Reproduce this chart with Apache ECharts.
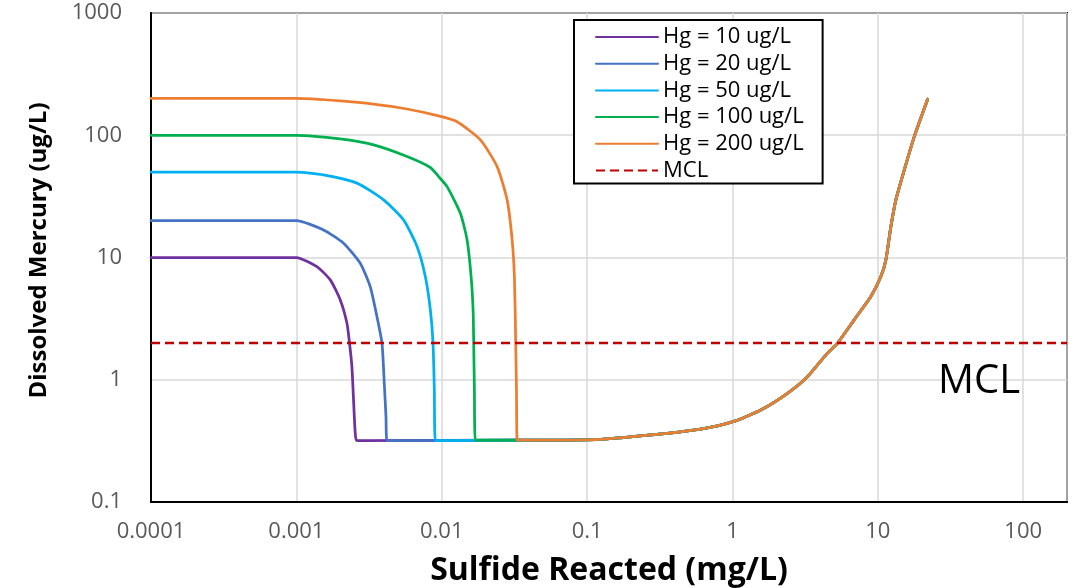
<!DOCTYPE html>
<html>
<head>
<meta charset="utf-8">
<script src="https://cdn.jsdelivr.net/npm/echarts@6/dist/echarts.min.js"></script>
<style>
html,body{margin:0;padding:0;background:#fff;}
#chart{width:1081px;height:588px;}
</style>
</head>
<body>
<div id="chart"></div>
<script>
// ---- Data ----
const SERIES_NAMES = ['Hg = 10 ug/L', 'Hg = 20 ug/L', 'Hg = 50 ug/L', 'Hg = 100 ug/L', 'Hg = 200 ug/L'];
const SERIES_COLORS = ['#7030a0', '#4472c4', '#00b0f0', '#00b050', '#ed7d31'];

const HG10_X = [0.0001, 0.001, 0.001384, 0.00171, 0.002004, 0.002228, 0.002321, 0.00241, 0.002473, 0.00254, 0.00261];
const HG10_Y = [10, 10, 8.42, 6.56, 4.50, 2.90, 1.99, 1.28, 0.684, 0.367, 0.318];

const HG20_X = [0.0001, 0.001, 0.001537, 0.00211, 0.00275, 0.00322, 0.003584, 0.003881, 0.004024, 0.004134, 0.0042];
const HG20_Y = [20, 20, 16.8, 13.1, 8.97, 5.78, 3.28, 1.99, 0.936, 0.499, 0.318];

const HG50_X = [0.0001, 0.001, 0.001537, 0.00261, 0.00398, 0.00546, 0.00676, 0.00771, 0.00835, 0.00871, 0.00889, 0.00904];
const HG50_Y = [50, 50, 47.4, 40.6, 29.6, 20.3, 12.3, 6.98, 3.72, 1.99, 0.825, 0.318];

const HG100_X = [0.0001, 0.001, 0.002, 0.0034, 0.00577, 0.00835, 0.00952, 0.01088, 0.01343, 0.01494, 0.01592, 0.01643, 0.01659, 0.01677, 0.01703];
const HG100_Y = [100, 100, 93.4, 83.4, 67.0, 54.5, 45.9, 38.0, 23.0, 13.9, 6.98, 3.72, 1.99, 0.825, 0.32];

const HG200_X = [0.0001, 0.001, 0.002, 0.0034, 0.00577, 0.00952, 0.01275, 0.01844, 0.02404, 0.02817, 0.0305, 0.0316, 0.03228, 0.03265, 0.03301];
const HG200_Y = [200, 200, 191, 180, 164, 144, 129, 91.6, 55.4, 29.6, 13.9, 6.98, 1.99, 0.825, 0.32];

// shared floor + rising tail (all curves coincide here)
const TAIL_X = [0.034, 0.1237, 0.356, 0.604, 1.008, 1.564, 2.39, 3.28, 4.50, 5.28, 6.87, 8.95, 10.49, 11.35, 12.29, 13.3, 15.2, 17.8, 22.0];
const TAIL_Y = [0.32, 0.326, 0.365, 0.394, 0.454, 0.566, 0.775, 1.06, 1.65, 1.99, 3.09, 4.79, 6.98, 9.55, 17.9, 29.6, 52.1, 97.5, 197];

const MCL_NAME = 'MCL';
const MCL_X = [0.0001, 200];
const MCL_Y = [2, 2];

const X_TICKS = ['0.0001', '0.001', '0.01', '0.1', '1', '10', '100'];
const Y_TICKS = ['0.1', '1', '10', '100', '1000'];
const X_TITLE = 'Sulfide Reacted (mg/L)';
const Y_TITLE = 'Dissolved Mercury (ug/L)';

// ---- Build ----
const CURVES_X = [HG10_X, HG20_X, HG50_X, HG100_X, HG200_X];
const CURVES_Y = [HG10_Y, HG20_Y, HG50_Y, HG100_Y, HG200_Y];

function pairs(xs, ys) { return xs.map((x, i) => [x, ys[i]]); }

function decadeLabel(list) {
  return function (v) {
    const e = Math.round(Math.log10(v));
    if (Math.abs(Math.log10(v) - e) > 1e-6) return '';
    const s = list.find(t => Math.round(Math.log10(parseFloat(t))) === e);
    return s || '';
  };
}

const FONT = '"Open Sans", "DejaVu Sans", sans-serif';

const series = SERIES_NAMES.map((name, i) => ({
  name: name,
  type: 'line',
  data: pairs(CURVES_X[i], CURVES_Y[i]).concat(pairs(TAIL_X, TAIL_Y)),
  showSymbol: false,
  symbol: 'none',
  smooth: 0.2,
  lineStyle: { color: SERIES_COLORS[i], width: 2.75, join: 'round', cap: 'round' },
  itemStyle: { color: SERIES_COLORS[i] },
  z: 3 + i,
  animation: false
}));
series.push({
  name: MCL_NAME,
  type: 'line',
  data: pairs(MCL_X, MCL_Y),
  showSymbol: false,
  symbol: 'none',
  lineStyle: { color: '#c00000', width: 2.5, type: [9, 5] },
  itemStyle: { color: '#c00000' },
  z: 10,
  animation: false
});

const chart = echarts.init(document.getElementById('chart'), null, { renderer: 'canvas' });
chart.setOption({
  animation: false,
  backgroundColor: '#ffffff',
  textStyle: { fontFamily: FONT },
  grid: {
    left: 151, top: 13, right: 14, bottom: 86,
    show: true, borderColor: '#000', borderWidth: 2, backgroundColor: 'transparent',
    containLabel: false, outerBoundsMode: 'none'
  },
  legend: {
    show: true,
    orient: 'vertical',
    left: 574, top: 20,
    padding: [6, 19, 2, 21],
    itemWidth: 62, itemHeight: 14, itemGap: 4.7,
    borderColor: '#000', borderWidth: 2, backgroundColor: '#fff',
    itemStyle: { color: 'transparent', borderColor: 'transparent', borderWidth: 0, opacity: 0 },
    textStyle: { color: '#000', fontSize: 22, fontFamily: FONT },
    data: SERIES_NAMES.concat([MCL_NAME])
  },
  xAxis: {
    type: 'log', logBase: 10, min: 0.0001, max: 200,
    name: X_TITLE, nameLocation: 'middle', nameGap: 53,
    nameTextStyle: { color: '#000', fontSize: 32, fontWeight: 'bold', fontFamily: FONT },
    axisLine: { show: true, lineStyle: { color: '#000', width: 2 } },
    axisTick: { show: false },
    axisLabel: { color: '#595959', fontSize: 22, margin: 19, formatter: decadeLabel(X_TICKS), showMaxLabel: false },
    splitLine: { show: true, lineStyle: { color: '#d9d9d9', width: 1.5 } },
    minorTick: { show: false }, minorSplitLine: { show: false }
  },
  yAxis: {
    type: 'log', logBase: 10, min: 0.1, max: 1000,
    name: Y_TITLE, nameLocation: 'middle', nameGap: 100,
    nameTextStyle: { color: '#000', fontSize: 24, fontWeight: 'bold', fontFamily: FONT, padding: [0, 0, 0, 14] },
    axisLine: { show: true, lineStyle: { color: '#000', width: 2 } },
    axisTick: { show: false },
    axisLabel: { color: '#595959', fontSize: 22, margin: 29, formatter: decadeLabel(Y_TICKS) },
    splitLine: { show: true, lineStyle: { color: '#d9d9d9', width: 1.5 } }
  },
  graphic: [{
    type: 'text', left: 938, top: 362, z: 20,
    style: { text: 'MCL', fill: '#000', fontSize: 40, fontFamily: FONT }
  }],
  series: series
});
</script>
</body>
</html>
